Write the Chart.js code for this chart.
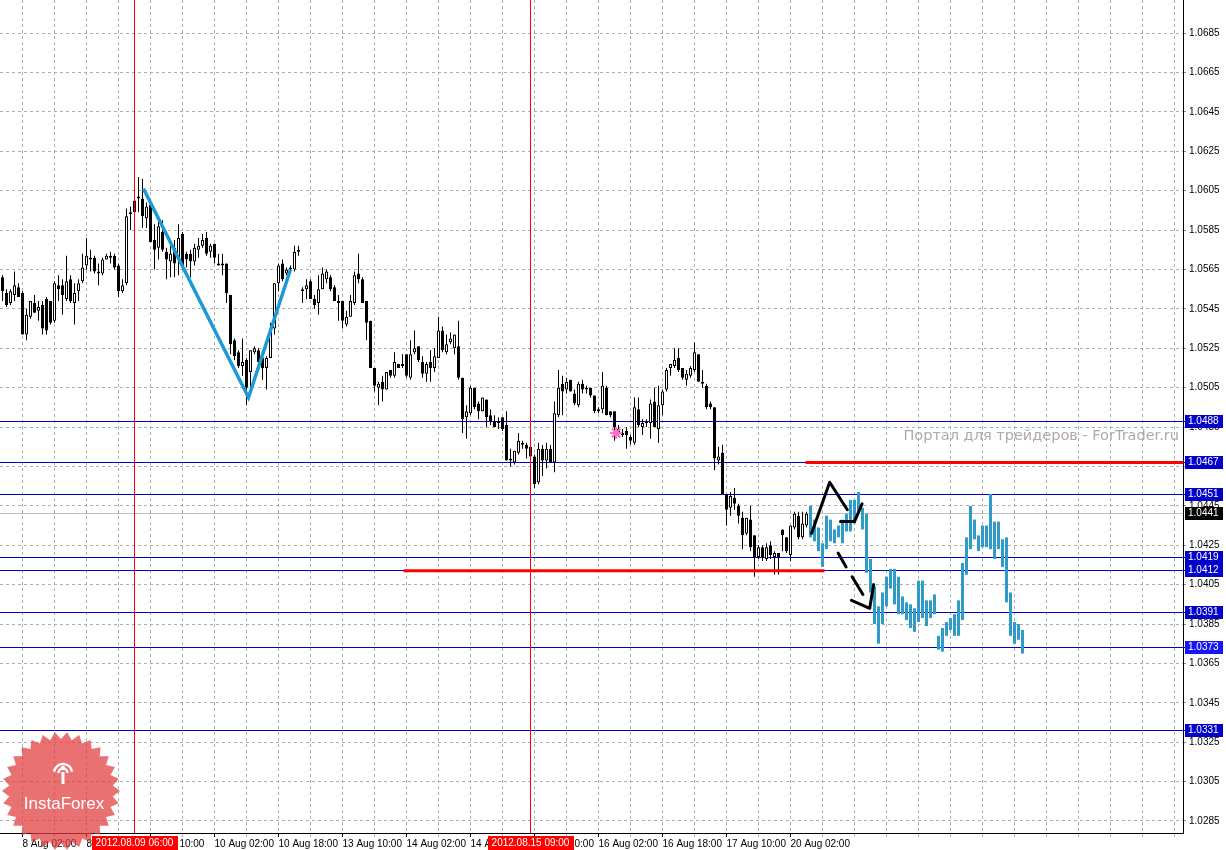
<!DOCTYPE html>
<html>
<head>
<meta charset="utf-8">
<script src="https://cdn.jsdelivr.net/npm/chart.js@4.4.0/dist/chart.umd.min.js"></script>
<style>
html, body { margin: 0; padding: 0; background: #fff; overflow: hidden; }
#c { display: block; }
</style>
</head>
<body>
<canvas id="c" width="1226" height="850"></canvas>
<script>
// EURUSD-like H1 bars, one entry per bar (bar number = position in the array)
const opens = [
  1.0561,1.0553,1.0548,1.0552,1.0556,1.0553,1.0532,1.0541,1.0548,1.0544,
  1.0547,1.0550,1.0549,1.0539,1.0557,1.0557,1.0550,1.0560,1.0548,1.0554,
  1.0559,1.0567,1.0571,1.0571,1.0564,1.0563,1.0570,1.0571,1.0572,1.0567,
  1.0554,1.0558,1.0593,1.0594,1.0601,1.0601,1.0591,1.0598,1.0580,1.0576,
  1.0584,1.0574,1.0569,1.0576,1.0570,1.0583,1.0573,1.0573,1.0569,1.0575,
  1.0577,1.0581,1.0574,1.0578,1.0568,1.0568,1.0568,1.0552,1.0529,1.0523,
  1.0516,1.0519,1.0513,1.0523,1.0524,1.0520,1.0515,1.0520,1.0535,1.0558,
  1.0568,1.0563,1.0565,1.0565,1.0574,1.0554,1.0555,1.0559,1.0550,1.0548,
  1.0555,1.0560,1.0561,1.0556,1.0549,1.0549,1.0537,1.0541,1.0548,1.0563,
  1.0560,1.0549,1.0539,1.0515,1.0505,1.0508,1.0504,1.0514,1.0511,1.0517,
  1.0517,1.0522,1.0510,1.0523,1.0526,1.0518,1.0512,1.0518,1.0515,1.0520,
  1.0534,1.0523,1.0528,1.0525,1.0526,1.0510,1.0490,1.0492,1.0505,1.0497,
  1.0493,1.0499,1.0491,1.0488,1.0487,1.0490,1.0486,1.0469,1.0467,1.0472,
  1.0477,1.0476,1.0475,1.0470,1.0457,1.0474,1.0468,1.0474,1.0467,1.0491,
  1.0507,1.0504,1.0509,1.0502,1.0496,1.0507,1.0505,1.0505,1.0501,1.0494,
  1.0494,1.0505,1.0493,1.0493,1.0484,1.0482,1.0483,1.0480,1.0477,1.0494,
  1.0485,1.0487,1.0487,1.0498,1.0484,1.0496,1.0504,1.0515,1.0516,1.0520,
  1.0515,1.0509,1.0511,1.0514,1.0522,1.0508,1.0506,1.0497,1.0495,1.0468,
  1.0472,1.0451,1.0444,1.0449,1.0445,1.0439,1.0431,1.0438,1.0430,1.0419,
  1.0424,1.0418,1.0425,1.0419,1.0421,1.0433,1.0429,1.0420,1.0434,1.0440,
  1.0429,1.0435
];
const highs = [
  1.0562,1.0555,1.0555,1.0564,1.0558,1.0554,1.0545,1.0549,1.0552,1.0549,
  1.0549,1.0551,1.0549,1.0559,1.0562,1.0560,1.0572,1.0562,1.0558,1.0560,
  1.0573,1.0581,1.0575,1.0572,1.0568,1.0571,1.0573,1.0574,1.0573,1.0568,
  1.0560,1.0596,1.0597,1.0601,1.0612,1.0611,1.0599,1.0600,1.0588,1.0590,
  1.0590,1.0576,1.0578,1.0580,1.0588,1.0584,1.0574,1.0575,1.0578,1.0581,
  1.0583,1.0584,1.0578,1.0578,1.0573,1.0573,1.0568,1.0552,1.0530,1.0524,
  1.0530,1.0520,1.0524,1.0526,1.0525,1.0521,1.0521,1.0538,1.0558,1.0568,
  1.0570,1.0566,1.0567,1.0577,1.0577,1.0556,1.0560,1.0560,1.0552,1.0562,
  1.0566,1.0565,1.0562,1.0557,1.0552,1.0549,1.0544,1.0552,1.0564,1.0573,
  1.0561,1.0549,1.0539,1.0515,1.0508,1.0511,1.0513,1.0514,1.0523,1.0517,
  1.0522,1.0522,1.0529,1.0534,1.0526,1.0521,1.0518,1.0524,1.0525,1.0541,
  1.0536,1.0532,1.0533,1.0532,1.0539,1.0510,1.0496,1.0506,1.0505,1.0498,
  1.0500,1.0499,1.0494,1.0491,1.0490,1.0490,1.0493,1.0474,1.0473,1.0482,
  1.0478,1.0477,1.0477,1.0471,1.0477,1.0476,1.0477,1.0476,1.0498,1.0514,
  1.0511,1.0510,1.0509,1.0504,1.0508,1.0509,1.0506,1.0505,1.0501,1.0495,
  1.0513,1.0506,1.0493,1.0493,1.0486,1.0484,1.0485,1.0481,1.0500,1.0500,
  1.0489,1.0489,1.0499,1.0505,1.0506,1.0504,1.0515,1.0517,1.0525,1.0525,
  1.0515,1.0514,1.0516,1.0528,1.0522,1.0514,1.0507,1.0498,1.0495,1.0475,
  1.0476,1.0451,1.0452,1.0454,1.0446,1.0442,1.0439,1.0445,1.0430,1.0425,
  1.0425,1.0426,1.0427,1.0422,1.0421,1.0433,1.0429,1.0435,1.0442,1.0442,
  1.0442,1.0442
];
const lows = [
  1.0549,1.0546,1.0547,1.0549,1.0551,1.0532,1.0529,1.0540,1.0543,1.0539,
  1.0532,1.0532,1.0537,1.0538,1.0549,1.0542,1.0549,1.0548,1.0537,1.0549,
  1.0558,1.0565,1.0564,1.0563,1.0557,1.0562,1.0570,1.0568,1.0565,1.0551,
  1.0553,1.0557,1.0585,1.0593,1.0594,1.0586,1.0586,1.0579,1.0565,1.0570,
  1.0574,1.0560,1.0561,1.0561,1.0562,1.0565,1.0566,1.0561,1.0567,1.0571,
  1.0576,1.0572,1.0571,1.0568,1.0567,1.0562,1.0548,1.0522,1.0519,1.0515,
  1.0511,1.0496,1.0503,1.0522,1.0515,1.0509,1.0504,1.0520,1.0532,1.0554,
  1.0559,1.0562,1.0563,1.0564,1.0572,1.0548,1.0550,1.0550,1.0545,1.0542,
  1.0555,1.0558,1.0554,1.0549,1.0539,1.0535,1.0536,1.0541,1.0547,1.0558,
  1.0548,1.0529,1.0515,1.0503,1.0496,1.0498,1.0504,1.0510,1.0510,1.0515,
  1.0515,1.0510,1.0509,1.0522,1.0518,1.0510,1.0508,1.0508,1.0513,1.0520,
  1.0523,1.0522,1.0527,1.0522,1.0509,1.0482,1.0479,1.0491,1.0494,1.0489,
  1.0493,1.0485,1.0486,1.0485,1.0484,1.0483,1.0468,1.0465,1.0466,1.0471,
  1.0474,1.0469,1.0468,1.0454,1.0456,1.0460,1.0464,1.0467,1.0462,1.0490,
  1.0491,1.0502,1.0503,1.0496,1.0495,1.0502,1.0502,1.0500,1.0492,1.0492,
  1.0492,1.0491,1.0490,1.0478,1.0480,1.0480,1.0474,1.0476,1.0476,1.0485,
  1.0481,1.0485,1.0479,1.0485,1.0477,1.0491,1.0503,1.0511,1.0515,1.0513,
  1.0509,1.0506,1.0510,1.0513,1.0508,1.0505,1.0494,1.0494,1.0463,1.0466,
  1.0451,1.0435,1.0440,1.0443,1.0436,1.0423,1.0430,1.0422,1.0409,1.0418,
  1.0417,1.0417,1.0418,1.0410,1.0410,1.0422,1.0421,1.0417,1.0433,1.0428,
  1.0428,1.0434
];
const closes = [
  1.0554,1.0547,1.0554,1.0557,1.0551,1.0532,1.0542,1.0549,1.0543,1.0546,
  1.0535,1.0534,1.0538,1.0558,1.0555,1.0552,1.0559,1.0549,1.0553,1.0558,
  1.0566,1.0572,1.0570,1.0564,1.0563,1.0570,1.0572,1.0572,1.0566,1.0554,
  1.0557,1.0592,1.0594,1.0600,1.0602,1.0592,1.0597,1.0579,1.0575,1.0587,
  1.0575,1.0570,1.0573,1.0568,1.0581,1.0566,1.0570,1.0569,1.0576,1.0577,
  1.0580,1.0573,1.0577,1.0571,1.0567,1.0567,1.0553,1.0527,1.0521,1.0516,
  1.0518,1.0505,1.0524,1.0525,1.0518,1.0515,1.0520,1.0535,1.0558,1.0567,
  1.0560,1.0565,1.0566,1.0574,1.0575,1.0555,1.0557,1.0550,1.0547,1.0555,
  1.0563,1.0564,1.0555,1.0549,1.0548,1.0539,1.0541,1.0549,1.0562,1.0560,
  1.0548,1.0538,1.0515,1.0506,1.0507,1.0504,1.0513,1.0511,1.0518,1.0515,
  1.0516,1.0511,1.0522,1.0525,1.0519,1.0512,1.0517,1.0515,1.0521,1.0534,
  1.0524,1.0527,1.0530,1.0532,1.0510,1.0489,1.0493,1.0505,1.0495,1.0493,
  1.0500,1.0490,1.0488,1.0485,1.0488,1.0484,1.0468,1.0468,1.0473,1.0478,
  1.0476,1.0474,1.0470,1.0456,1.0474,1.0468,1.0474,1.0467,1.0492,1.0505,
  1.0503,1.0508,1.0503,1.0497,1.0507,1.0504,1.0504,1.0501,1.0493,1.0493,
  1.0506,1.0491,1.0491,1.0485,1.0482,1.0481,1.0481,1.0478,1.0495,1.0486,
  1.0487,1.0488,1.0497,1.0485,1.0496,1.0503,1.0514,1.0517,1.0519,1.0514,
  1.0510,1.0512,1.0515,1.0523,1.0508,1.0507,1.0495,1.0495,1.0469,1.0470,
  1.0451,1.0443,1.0450,1.0446,1.0440,1.0430,1.0439,1.0424,1.0419,1.0424,
  1.0419,1.0424,1.0420,1.0421,1.0419,1.0430,1.0422,1.0435,1.0441,1.0429,
  1.0436,1.0441
];

// projected path (blue bars), low/high per bar, starting at bar 202
const fcStart = 202;
const fcLow = [
  1.0429,1.0427,1.0422,1.0414,1.0423,1.0427,1.0426,1.0429,1.0426,1.0432,
  1.0432,1.0436,1.0442,1.0433,1.0411,1.0401,1.0385,1.0375,1.0385,1.0394,
  1.0403,1.0395,1.0390,1.0390,1.0387,1.0383,1.0381,1.0386,1.0388,1.0384,
  1.0388,1.0390,1.0372,1.0371,1.0379,1.0382,1.0379,1.0379,1.0387,1.0410,
  1.0423,1.0428,1.0422,1.0424,1.0424,1.0423,1.0418,1.0423,1.0414,1.0396,
  1.0379,1.0375,1.0377,1.0370
];
const fcHigh = [
  1.0445,1.0438,1.0434,1.0426,1.0440,1.0438,1.0433,1.0435,1.0438,1.0441,
  1.0448,1.0448,1.0452,1.0444,1.0441,1.0418,1.0404,1.0394,1.0401,1.0409,
  1.0413,1.0413,1.0409,1.0399,1.0396,1.0395,1.0393,1.0407,1.0407,1.0397,
  1.0397,1.0400,1.0379,1.0383,1.0386,1.0388,1.0390,1.0397,1.0416,1.0429,
  1.0445,1.0438,1.0430,1.0435,1.0435,1.0451,1.0437,1.0437,1.0428,1.0429,
  1.0401,1.0386,1.0385,1.0382
];

// horizontal levels, bid, red segments
const levels = [1.0488, 1.0467, 1.0451, 1.0419, 1.0412, 1.0391, 1.0373, 1.0331];
const bidPrice = 1.0441;
const redLevels = [1.0467, 1.0412];
const redFrom = [200.75, 100.25];
const redTo = [295.125, 205.5];

// vertical markers
const vLineBars = [33, 132];
const vLineLabels = ['2012.08.09 06:00', '2012.08.15 09:00'];

// drawn objects
const zigBars = [35.25, 61.5, 72];
const zigPrices = [1.0606, 1.0500, 1.0565];
const strokeA = [[202.25, 1.0431], [206.8, 1.0457], [211.2, 1.0443]];
const strokeB = [[209.5, 1.0437], [213, 1.0437], [214.9, 1.0446]];
const strokeC = [[208.9, 1.0421], [210.9, 1.0414]];
const strokeD = [[212.4, 1.0409], [215.1, 1.0400]];
const strokeE = [[212.25, 1.0397], [216.8, 1.0393], [217.8, 1.0405]];
const starBar = 153.4;
const starPrice = 1.0482;

// axes
const yTicks = [1.0685, 1.0665, 1.0645, 1.0625, 1.0605, 1.0585, 1.0565, 1.0545, 1.0525, 1.0505,
  1.0485, 1.0465, 1.0445, 1.0425, 1.0405, 1.0385, 1.0365, 1.0345, 1.0325, 1.0305, 1.0285];
const xGridBars = [5, 13, 21, 29, 37, 45, 53, 61, 69, 77, 85, 93, 101, 109, 117, 125, 133, 141, 149,
  157, 165, 173, 181, 189, 197, 205, 213, 221, 229, 237, 245, 253, 261, 269, 277, 285, 293];
const xLabelBars = [5, 21, 37, 53, 69, 85, 101, 117, 133, 149, 165, 181, 197];
const xLabelTexts = ['8 Aug 02:00', '8 Aug 18:00', '9 Aug 10:00', '10 Aug 02:00', '10 Aug 18:00',
  '13 Aug 10:00', '14 Aug 02:00', '14 Aug 18:00', '15 Aug 10:00', '16 Aug 02:00', '16 Aug 18:00',
  '17 Aug 10:00', '20 Aug 02:00'];

const watermark = 'Портал для трейдеров - ForTrader.ru';
const FONT = '"Liberation Sans", Arial, sans-serif';

function strokeSet(pts) {
    return {
        type: 'line', data: pts.map(function (p) { return { x: p[0], y: p[1] }; }),
        borderColor: '#000', borderWidth: 3, pointRadius: 0, tension: 0,
        borderCapStyle: 'round', borderJoinStyle: 'round', order: 2
    };
}

function drawLogo(ctx, cx, cy) {
    ctx.save();
    ctx.globalAlpha = 0.72;
    ctx.fillStyle = '#e23a3a';
    ctx.beginPath();
    var n = 30;
    for (var k = 0; k < n * 2; k++) {
        var r = k % 2 ? 52 : 59;
        var a = Math.PI * k / n;
        ctx.lineTo(cx + r * Math.cos(a), cy + r * Math.sin(a));
    }
    ctx.closePath();
    ctx.fill();
    ctx.globalAlpha = 1;
    // icon
    ctx.strokeStyle = '#fff';
    ctx.fillStyle = '#fff';
    ctx.lineWidth = 2.5;
    ctx.beginPath();
    ctx.arc(cx + 2, cy - 18, 9, Math.PI * 1.05, Math.PI * 1.95);
    ctx.stroke();
    ctx.beginPath();
    ctx.arc(cx + 2, cy - 18, 4.5, Math.PI * 1.0, Math.PI * 2.0);
    ctx.stroke();
    ctx.beginPath();
    ctx.arc(cx + 2, cy - 23, 2.2, 0, Math.PI * 2);
    ctx.fill();
    ctx.fillRect(cx + 0.5, cy - 19, 3, 12);
    ctx.font = '17px ' + FONT;
    ctx.textAlign = 'center';
    ctx.textBaseline = 'middle';
    ctx.fillText('InstaForex', cx + 3, cy + 13);
    ctx.restore();
}

const overlay = {
    id: 'overlay',
    beforeDatasetsDraw(chart) {
        const { ctx, chartArea: a, scales: { y } } = chart;
        ctx.save();
        ctx.setLineDash([]);
        // watermark
        ctx.font = '14.5px "DejaVu Sans", sans-serif';
        ctx.fillStyle = '#b3a8a8';
        ctx.textAlign = 'right';
        ctx.textBaseline = 'middle';
        ctx.fillText(watermark, a.right - 4, 436);
        // bid line
        ctx.fillStyle = '#c0c0c0';
        ctx.fillRect(a.left, Math.floor(y.getPixelForValue(bidPrice)), a.right - a.left, 1);
        // levels
        ctx.fillStyle = '#0000d0';
        levels.forEach(function (v) {
            ctx.fillRect(a.left, Math.floor(y.getPixelForValue(v)), a.right - a.left + 3, 1);
        });
        ctx.restore();
    },
    afterDatasetsDraw(chart) {
        const { ctx, chartArea: a, scales: { x } } = chart;
        ctx.save();
        ctx.fillStyle = '#ff0000';
        vLineBars.forEach(function (b) {
            ctx.fillRect(Math.floor(x.getPixelForValue(b)), a.top, 1, a.bottom - a.top);
        });
        ctx.restore();
    },
    afterDraw(chart) {
        const { ctx, chartArea: a, scales: { x, y } } = chart;
        ctx.save();
        ctx.font = '10px ' + FONT;
        ctx.textBaseline = 'middle';
        // price boxes on the right axis
        levels.forEach(function (v) {
            var p = Math.floor(y.getPixelForValue(v)) + 0.5;
            ctx.fillStyle = v === 1.0373 ? '#1515f5' : '#0000c8';
            ctx.fillRect(a.right + 2, Math.round(p - 7), 38, 13);
            ctx.fillStyle = '#fff';
            ctx.textAlign = 'left';
            ctx.fillText(v.toFixed(4), a.right + 5, p);
        });
        var pb = Math.floor(y.getPixelForValue(bidPrice)) + 0.5;
        ctx.fillStyle = '#000';
        ctx.fillRect(a.right + 2, Math.round(pb - 7), 38, 13);
        ctx.fillStyle = '#fff';
        ctx.fillText(bidPrice.toFixed(4), a.right + 5, pb);
        // time boxes for the vertical lines
        vLineBars.forEach(function (b, k) {
            var px = Math.floor(x.getPixelForValue(b)) + 0.5;
            var w = ctx.measureText(vLineLabels[k]).width + 8;
            ctx.fillStyle = '#ff0000';
            ctx.fillRect(Math.round(px - w / 2), a.bottom + 3, Math.round(w), 14);
            ctx.fillStyle = '#fff';
            ctx.textAlign = 'center';
            ctx.fillText(vLineLabels[k], px, a.bottom + 10);
        });
        ctx.restore();
        drawLogo(ctx, 61, 791);
    }
};

const bodyColors = closes.map(function (c, i) { return c >= opens[i] ? '#ffffff' : '#000000'; });

new Chart(document.getElementById('c'), {
    type: 'bar',
    data: {
        datasets: [
            {
                type: 'bar', label: 'wick',
                data: opens.map(function (o, i) { return { x: i, y: [lows[i], highs[i]] }; }),
                backgroundColor: '#000', barThickness: 1, grouped: false, inflateAmount: 0, order: 6
            },
            {
                type: 'bar', label: 'body',
                data: opens.map(function (o, i) { return { x: i, y: [o, closes[i]] }; }),
                backgroundColor: bodyColors, borderColor: '#000', borderWidth: 1, borderSkipped: false,
                barThickness: 3, minBarLength: 1, grouped: false, inflateAmount: 0, order: 5
            },
            {
                type: 'bar', label: 'forecast',
                data: fcLow.map(function (l, i) { return { x: fcStart + i, y: [l, fcHigh[i]] }; }),
                backgroundColor: '#2e9bc8', barThickness: 3, grouped: false, inflateAmount: 0, order: 5
            },
            {
                type: 'line', label: 'zigzag',
                data: zigBars.map(function (b, i) { return { x: b, y: zigPrices[i] }; }),
                borderColor: '#1a9ad6', borderWidth: 3.5, pointRadius: 0, tension: 0, order: 2
            },
            strokeSet(strokeA), strokeSet(strokeB), strokeSet(strokeC), strokeSet(strokeD), strokeSet(strokeE),
            {
                type: 'line', label: 'red1',
                data: [{ x: redFrom[0], y: redLevels[0] }, { x: redTo[0], y: redLevels[0] }],
                borderColor: '#ff0000', borderWidth: 3, pointRadius: 0, order: 3
            },
            {
                type: 'line', label: 'red2',
                data: [{ x: redFrom[1], y: redLevels[1] }, { x: redTo[1], y: redLevels[1] }],
                borderColor: '#ff0000', borderWidth: 3, pointRadius: 0, order: 3
            },
            {
                type: 'line', label: 'star', showLine: false,
                data: [{ x: starBar, y: starPrice }],
                pointStyle: 'star', pointRadius: 6, pointBorderColor: '#ff6fc8', pointBackgroundColor: '#ff6fc8',
                pointBorderWidth: 2, order: 1
            }
        ]
    },
    options: {
        responsive: false,
        animation: false,
        devicePixelRatio: 1,
        layout: { padding: 0, autoPadding: false },
        plugins: { legend: { display: false }, tooltip: { enabled: false } },
        scales: {
            x: {
                type: 'linear', position: 'bottom', min: -0.625, max: 295.125, offset: false,
                afterBuildTicks: function (s) { s.ticks = xGridBars.map(function (v) { return { value: v }; }); },
                afterFit: function (s) { s.height = 17; s.paddingLeft = 0; s.paddingRight = 0; },
                ticks: {
                    autoSkip: false, maxRotation: 0, minRotation: 0, align: 'start', padding: 1,
                    color: '#000', font: { family: FONT, size: 10 },
                    callback: function (v) { var k = xLabelBars.indexOf(v); return k >= 0 ? xLabelTexts[k] : ''; }
                },
                grid: {
                    offset: false, color: '#a9b1a9', lineWidth: 1, tickLength: 4,
                    tickColor: function (c) { return c.tick && xLabelBars.indexOf(c.tick.value) >= 0 ? '#000' : '#c9a9c9'; }
                },
                border: { display: true, color: '#000', width: 1, dash: [3, 3] }
            },
            y: {
                type: 'linear', position: 'right', min: 1.02789, max: 1.07018,
                afterBuildTicks: function (s) { s.ticks = yTicks.map(function (v) { return { value: v }; }); },
                afterFit: function (s) { s.width = 43; s.paddingTop = 0; s.paddingBottom = 0; },
                ticks: {
                    padding: 3, color: '#000', font: { family: FONT, size: 10 },
                    callback: function (v) { return Number(v).toFixed(4); }
                },
                grid: { color: '#a9b1a9', lineWidth: 1, tickLength: 3, tickColor: '#888' },
                border: { display: true, color: '#000', width: 1, dash: [3, 3] }
            }
        }
    },
    plugins: [overlay]
});
</script>
</body>
</html>
